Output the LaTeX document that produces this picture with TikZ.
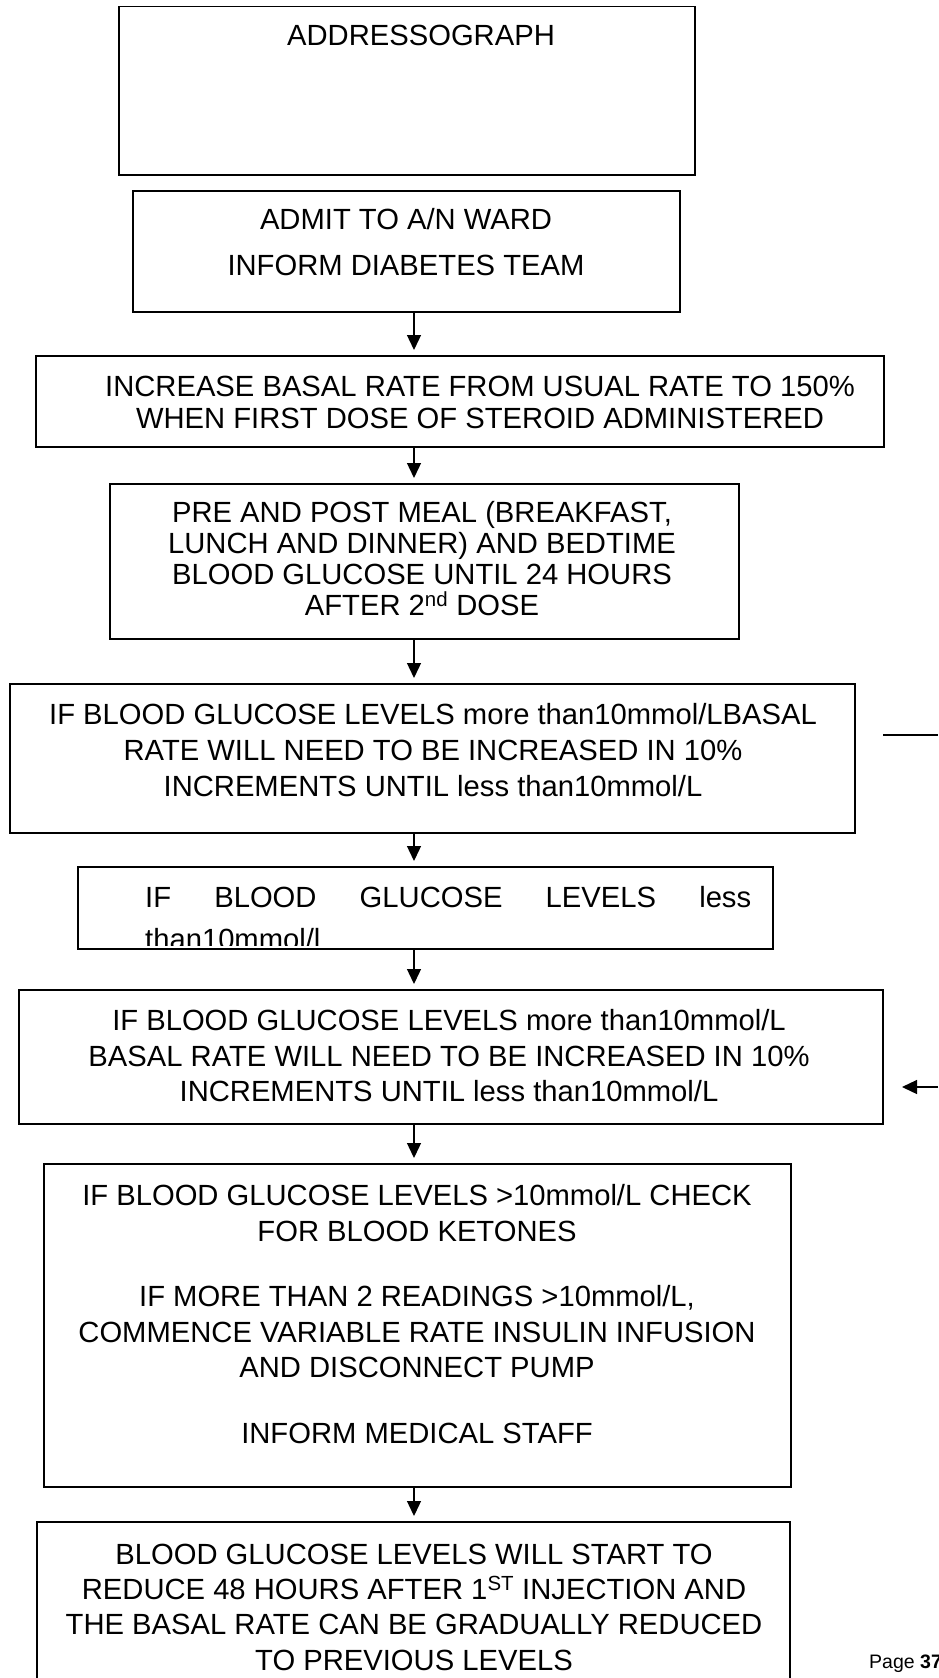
\documentclass[tikz,border=0pt]{standalone}
\usepackage{fontspec}
\setmainfont{Liberation Sans}
\usetikzlibrary{arrows.meta}
\begin{document}
\begin{tikzpicture}[x=1pt,y=-1pt,
  box/.style={draw, line width=1.5pt, inner sep=0pt, anchor=north west},
  txt/.style={inner sep=0pt, align=center},
  flow/.style={line width=1.3pt, -{Triangle[length=15pt,width=14pt]}, shorten >=5pt},
  side/.style={line width=1.3pt}]
\useasboundingbox (0,0) rectangle (938,1678);
% boxes
\node[box, minimum width=576pt, minimum height=168pt] (b1) at (118,6) {};
\node[box, minimum width=547pt, minimum height=121pt] (b2) at (132,190) {};
\node[box, minimum width=848pt, minimum height=91pt] (b3) at (35,355) {};
\node[box, minimum width=629pt, minimum height=155pt] (b4) at (109,483) {};
\node[box, minimum width=845pt, minimum height=149pt] (b5) at (9,683) {};
\node[box, minimum width=695pt, minimum height=82pt] (b6) at (77,866) {};
\node[box, minimum width=864pt, minimum height=134pt] (b7) at (18,989) {};
\node[box, minimum width=747pt, minimum height=323pt] (b8) at (43,1163) {};
\node[box, minimum width=753pt, minimum height=190pt] (b9) at (36,1521) {};
% texts
\node[txt, font=\fontsize{29.2}{35}\selectfont] (t1) at (421,35) {ADDRESSOGRAPH};
\node[txt, font=\fontsize{29.2}{35}\selectfont] (t2) at (406,242) {ADMIT TO A/N WARD\\[11pt]INFORM DIABETES TEAM};
\node[txt, font=\fontsize{29.2}{32}\selectfont] (t3) at (480,402) {INCREASE BASAL RATE FROM USUAL RATE TO 150\%\\WHEN FIRST DOSE OF STEROID ADMINISTERED};
\node[txt, font=\fontsize{29.2}{31}\selectfont] (t4) at (422,559) {PRE AND POST MEAL (BREAKFAST,\\LUNCH AND DINNER) AND BEDTIME\\BLOOD GLUCOSE UNTIL 24 HOURS\\AFTER 2\textsuperscript{nd} DOSE};
\node[txt, font=\fontsize{29.2}{36}\selectfont] (t5) at (433,750) {IF BLOOD GLUCOSE LEVELS more than10mmol/LBASAL\\RATE WILL NEED TO BE INCREASED IN 10\%\\INCREMENTS UNTIL less than10mmol/L};
\begin{scope}
\clip (77,866) rectangle (772,945);
\node[inner sep=0pt, align=left, anchor=north west, font=\fontsize{29.2}{42}\selectfont] (t6) at (145,886) {\makebox[606pt][s]{IF\hfill BLOOD\hfill GLUCOSE\hfill LEVELS\hfill less}\\than10mmol/l};
\end{scope}
\node[txt, font=\fontsize{29.2}{35.5}\selectfont] (t7) at (449,1056) {IF BLOOD GLUCOSE LEVELS more than10mmol/L\\BASAL RATE WILL NEED TO BE INCREASED IN 10\%\\INCREMENTS UNTIL less than10mmol/L};
\node[txt, font=\fontsize{29.2}{35.5}\selectfont] (t8) at (417,1314) {IF BLOOD GLUCOSE LEVELS >10mmol/L CHECK\\FOR BLOOD KETONES\\[30pt]IF MORE THAN 2 READINGS >10mmol/L,\\COMMENCE VARIABLE RATE INSULIN INFUSION\\AND DISCONNECT PUMP\\[30pt]INFORM MEDICAL STAFF};
\node[txt, font=\fontsize{29.2}{35.3}\selectfont] (t9) at (414,1607) {BLOOD GLUCOSE LEVELS WILL START TO\\REDUCE 48 HOURS AFTER 1\textsuperscript{ST} INJECTION AND\\THE BASAL RATE CAN BE GRADUALLY REDUCED\\TO PREVIOUS LEVELS};
\node[inner sep=0pt, anchor=base west, font=\fontsize{19.5}{23}\selectfont] (pg) at (869,1668) {Page \textbf{37}};
% vertical connectors
\foreach \a/\b in {b2/b3,b3/b4,b4/b5,b5/b6,b6/b7,b7/b8,b8/b9}{
  \draw[flow] (\a.south -| 414,0) -- (\b.north -| 414,0);
}
% side connectors
\coordinate (r0) at (883,735);
\coordinate (r1) at (938,735);
\draw[side] (r0) -- (r1);
\coordinate (r2) at (938,1087);
\coordinate (r3) at (902,1087);
\draw[side, -{Triangle[length=15pt,width=14pt]}] (r2) -- (r3);
\end{tikzpicture}
\end{document}
